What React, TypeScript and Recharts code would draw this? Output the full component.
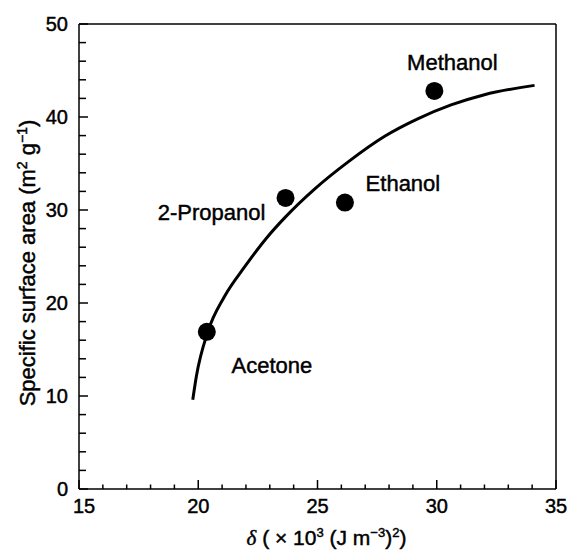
import { ComposedChart, Line, Scatter, XAxis, YAxis, ReferenceLine, Label } from "recharts";

const xTicks = [15, 16, 17, 18, 19, 20, 21, 22, 23, 24, 25, 26, 27, 28, 29, 30, 31, 32, 33, 34, 35];
const yTicks = [0, 2, 4, 6, 8, 10, 12, 14, 16, 18, 20, 22, 24, 26, 28, 30, 32, 34, 36, 38, 40, 42, 44, 46, 48, 50];

const solvents = ["Methanol", "Ethanol", "2-Propanol", "Acetone"];
const solventDelta = [29.9, 26.15, 23.66, 20.36];
const solventArea = [42.8, 30.8, 31.3, 16.9];

// fitted curve
const fitDelta = [19.77, 19.92, 20.4, 21.1, 21.95, 22.9, 23.6, 24.9, 26.3, 27.8, 29.2, 30.6, 32.0, 34.1];
const fitArea = [9.6, 12.1, 16.9, 20.7, 23.9, 27.1, 29.1, 32.3, 35.2, 37.9, 39.8, 41.3, 42.4, 43.4];

const points = solvents.map((name, i) => ({ name, x: solventDelta[i], y: solventArea[i] }));
const curve = fitDelta.map((x, i) => ({ x, y: fitArea[i] }));

const labelOffset: Record<string, { dx: number; dy: number }> = {
  Methanol: { dx: 18, dy: -28 },
  Ethanol: { dx: 58, dy: -19 },
  "2-Propanol": { dx: -74, dy: 15 },
  Acetone: { dx: 65, dy: 34 },
};

const font = "'Liberation Sans', Arial, sans-serif";
// scanned print looks a bit heavier than plain regular
const heavy = { stroke: "#000", strokeWidth: 0.45 };

const XTick = (props: any) => {
  const { x, y, payload } = props;
  const major = payload.value % 5 === 0;
  return (
    <g>
      <line x1={x} y1={y} x2={x} y2={y - (major ? 9 : 4.5)} stroke="#000" strokeWidth={1.5} />
      {major && (
        <text x={x + (payload.value === 15 ? 5 : 0)} y={y + 24} textAnchor="middle" fontSize={20} fontFamily={font} fill="#000" {...heavy}>
          {payload.value}
        </text>
      )}
    </g>
  );
};

const YTick = (props: any) => {
  const { x, y, payload } = props;
  const major = payload.value % 10 === 0;
  return (
    <g>
      <line x1={x} y1={y} x2={x + (major ? 9 : 7)} y2={y} stroke="#000" strokeWidth={1.5} />
      {major && (
        <text x={x - 11} y={y + 7} textAnchor="end" fontSize={20} fontFamily={font} fill="#000" {...heavy}>
          {payload.value}
        </text>
      )}
    </g>
  );
};

const SolventDot = (props: any) => {
  const { cx, cy, payload } = props;
  const o = labelOffset[payload.name];
  return (
    <g>
      <circle cx={cx} cy={cy} r={9} fill="#000" />
      <text x={cx + o.dx} y={cy + o.dy} textAnchor="middle" dominantBaseline="central" fontSize={22} fontFamily={font} fill="#000" {...heavy}>
        {payload.name}
      </text>
    </g>
  );
};

const XTitle = (props: any) => {
  const { viewBox } = props;
  const cx = viewBox.x + viewBox.width / 2 + 9;
  return (
    <text x={cx} y={545} textAnchor="middle" fontSize={21} fontFamily={font} fill="#000" {...heavy}>
      <tspan fontFamily="'Liberation Serif', serif" fontStyle="italic">δ</tspan>
      <tspan> ( × 10</tspan>
      <tspan dy={-8} fontSize={13}>3</tspan>
      <tspan dy={8}> (J m</tspan>
      <tspan dy={-8} fontSize={13}>−3</tspan>
      <tspan dy={8}>)</tspan>
      <tspan dy={-8} fontSize={13}>2</tspan>
      <tspan dy={8}>)</tspan>
    </text>
  );
};

const YTitle = () => {
  const x = 35;
  const y = 263;
  return (
    <text x={x} y={y} transform={`rotate(-90, ${x}, ${y})`} textAnchor="middle" fontSize={22} fontFamily={font} fill="#000" {...heavy}>
      <tspan>Specific surface area (m</tspan>
      <tspan dy={-8} fontSize={14}>2</tspan>
      <tspan dy={8}> g</tspan>
      <tspan dy={-8} fontSize={14}>−1</tspan>
      <tspan dy={8}>)</tspan>
    </text>
  );
};

export default function App() {
  return (
    <div style={{ position: "absolute", left: 0, top: 0, background: "#fff" }}>
      <ComposedChart width={568} height={552} margin={{ top: 24, right: 12, left: 0, bottom: 0 }}>
        <XAxis
          type="number"
          dataKey="x"
          domain={[15, 35]}
          ticks={xTicks}
          interval={0}
          height={63}
          tickSize={0}
          tickMargin={0}
          tickLine={false}
          tick={<XTick />}
          axisLine={{ stroke: "#000", strokeWidth: 1.5 }}
        >
          <Label content={<XTitle />} />
        </XAxis>
        <YAxis
          type="number"
          dataKey="y"
          domain={[0, 50]}
          ticks={yTicks}
          interval={0}
          width={79}
          tickSize={0}
          tickMargin={0}
          tickLine={false}
          tick={<YTick />}
          axisLine={{ stroke: "#000", strokeWidth: 1.5 }}
        >
          <Label content={<YTitle />} />
        </YAxis>
        <ReferenceLine y={50} stroke="#000" strokeWidth={1.5} />
        <ReferenceLine x={35} stroke="#000" strokeWidth={1.5} />
        <Line data={curve} dataKey="y" type="monotone" stroke="#000" strokeWidth={3} dot={false} isAnimationActive={false} />
        <Scatter data={points} dataKey="y" shape={<SolventDot />} isAnimationActive={false} />
      </ComposedChart>
    </div>
  );
}
